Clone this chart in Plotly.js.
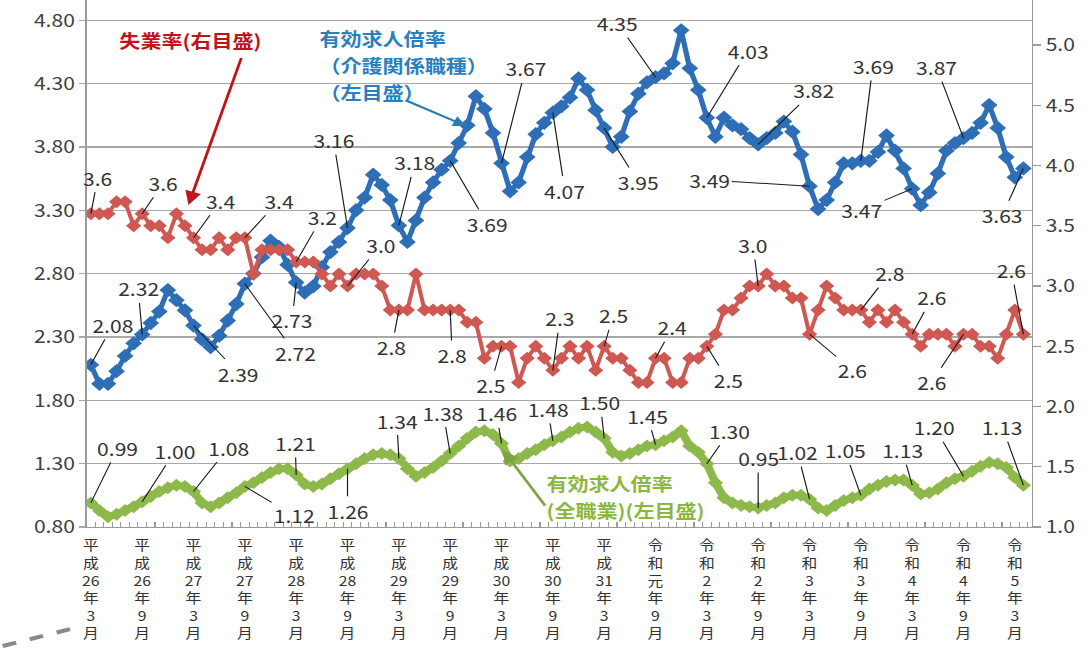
<!DOCTYPE html>
<html><head><meta charset="utf-8">
<script src="https://cdn.plot.ly/plotly-3.0.1.min.js"></script>
<style>
html,body{margin:0;padding:0;background:#fff;overflow:hidden;}
#wrap{width:1091px;height:650px;overflow:hidden;position:relative;background:#fff;}
#chart{position:absolute;left:0;top:0;transform-origin:0 0;}
</style></head><body>
<div id="wrap"><div id="chart"></div></div>
<script>
// ---- data (monthly, 平成26年3月 〜 令和5年4月) ----
const tickLabels = ['平成26年3月','平成26年9月','平成27年3月','平成27年9月','平成28年3月','平成28年9月',
  '平成29年3月','平成29年9月','平成30年3月','平成30年9月','平成31年3月','令和元年9月','令和2年3月',
  '令和2年9月','令和3年3月','令和3年9月','令和4年3月','令和4年9月','令和5年3月'];

// 有効求人倍率（介護関係職種）左目盛
const careRatio = [2.08,1.93,1.93,2.03,2.15,2.25,2.32,2.41,2.50,2.67,2.59,2.51,
  2.39,2.28,2.22,2.31,2.43,2.56,2.72,2.80,2.93,3.06,3.01,2.87,
  2.73,2.65,2.70,2.85,2.97,3.05,3.16,3.30,3.40,3.58,3.50,3.38,
  3.18,3.05,3.22,3.40,3.52,3.62,3.69,3.83,3.97,4.20,4.10,3.91,
  3.67,3.45,3.52,3.72,3.90,3.99,4.07,4.12,4.19,4.34,4.25,4.09,
  3.95,3.80,3.88,4.08,4.22,4.31,4.35,4.38,4.46,4.72,4.42,4.25,
  4.03,3.88,4.03,3.97,3.94,3.87,3.82,3.87,3.91,4.00,3.92,3.74,
  3.49,3.31,3.38,3.52,3.67,3.67,3.69,3.69,3.76,3.89,3.77,3.63,
  3.47,3.34,3.44,3.59,3.77,3.83,3.87,3.91,3.99,4.13,3.95,3.72,
  3.56,3.63];

// 失業率 右目盛
const unemployment = [3.6,3.6,3.6,3.7,3.7,3.5,3.6,3.5,3.5,3.4,3.6,3.5,
  3.4,3.3,3.3,3.4,3.3,3.4,3.4,3.1,3.3,3.3,3.3,3.3,
  3.2,3.2,3.2,3.1,3.0,3.1,3.0,3.1,3.1,3.1,3.0,2.8,
  2.8,2.8,3.1,2.8,2.8,2.8,2.8,2.8,2.7,2.7,2.4,2.5,
  2.5,2.5,2.2,2.4,2.5,2.4,2.3,2.4,2.5,2.4,2.5,2.3,
  2.5,2.4,2.4,2.3,2.2,2.2,2.4,2.4,2.2,2.2,2.4,2.4,
  2.5,2.6,2.8,2.8,2.9,3.0,3.0,3.1,3.0,3.0,2.9,2.9,
  2.6,2.8,3.0,2.9,2.8,2.8,2.8,2.7,2.8,2.7,2.8,2.7,
  2.6,2.5,2.6,2.6,2.6,2.5,2.6,2.6,2.5,2.5,2.4,2.6,
  2.8,2.6];

// 有効求人倍率（全職業）左目盛
const allJobsRatio = [0.99,0.93,0.88,0.90,0.93,0.96,1.00,1.04,1.08,1.11,1.13,1.12,
  1.08,0.99,0.96,0.99,1.03,1.07,1.12,1.15,1.19,1.23,1.26,1.26,
  1.21,1.14,1.12,1.14,1.18,1.22,1.26,1.30,1.34,1.37,1.38,1.37,
  1.34,1.26,1.20,1.23,1.27,1.32,1.38,1.44,1.50,1.55,1.56,1.53,
  1.46,1.32,1.34,1.38,1.41,1.45,1.48,1.51,1.55,1.58,1.59,1.55,
  1.50,1.39,1.36,1.38,1.41,1.44,1.45,1.48,1.51,1.56,1.44,1.39,
  1.30,1.15,1.03,0.99,0.97,0.96,0.95,0.97,0.99,1.03,1.05,1.05,
  1.02,0.95,0.93,0.97,1.01,1.03,1.05,1.10,1.13,1.16,1.17,1.17,
  1.13,1.06,1.07,1.10,1.15,1.18,1.20,1.24,1.28,1.31,1.30,1.27,
  1.19,1.13];

const labelIdx = [0,6,12,18,24,30,36,42,48,54,60,66,72,78,84,90,96,102,109];

// ---- label offsets (px: text centre relative to point) ----
const careOff = [[22,-40],[-4,-46],[45,48],[50,69],[-4,38],[-14,-88],[16,-63],[37,63],[24,-95],[12,78],
  [34,54],[-38,-54],[41,-67],[56,-54],[-100,-6],[12,-95],[-50,21],[-27,-71],[-21,47]];
const unempOff = [[7,-36],[21,-31],[27,-37],[34,-37],[26,-45],[33,-41],[-7,37],[2,45],[-11,39],[7,-52],
  [9,-31],[17,-31],[21,34],[-5,-41],[43,36],[29,-37],[20,-37],[-32,48],[-12,-64]];
const allOff = [[27,-55],[33,-51],[35,-44],[49,29],[-1,-32],[0,42],[-2,-38],[-7,-41],[-5,-30],[-5,-32],
  [-4,-36],[-8,-29],[23,-33],[0,-50],[-12,-47],[-16,-45],[-10,-35],[-29,-49],[-21,-58]];

// ---- geometry ----
const S = 1.17;                 // horizontal stretch of the reference picture
const W0 = 1091 / S, H = 650;
const L = 86 / S, R = W0 - 1033 / S, T = 0, B = 123;
const plotW = W0 - L - R, plotH = H - T - B;
const px = v => (v / S - L) / plotW;
const py = v => (H - B - v) / plotH;

const FONT = '"Noto Sans CJK JP", "Noto Sans", sans-serif';
const BLUE = '#2E6EB6', RED = '#CF5852', GREEN = '#8DB94B';
const xs = careRatio.map((_, i) => i);
const vert = s => s.match(/\d+|./g).join('<br>');

const traces = [
  {x: xs, y: allJobsRatio, type: 'scatter', mode: 'lines+markers', yaxis: 'y',
   line: {color: GREEN, width: 7}, marker: {symbol: 'diamond', size: 10, color: GREEN}, hoverinfo: 'skip'},
  {x: xs, y: careRatio, type: 'scatter', mode: 'lines+markers', yaxis: 'y',
   line: {color: BLUE, width: 4.5}, marker: {symbol: 'diamond', size: 11, color: BLUE}, hoverinfo: 'skip'},
  {x: xs, y: unemployment, type: 'scatter', mode: 'lines+markers', yaxis: 'y2',
   line: {color: RED, width: 3.5}, marker: {symbol: 'diamond', size: 10, color: RED}, hoverinfo: 'skip'}
];

const ann = [];
function addLabels(arr, offs, yref, digits) {
  labelIdx.forEach((i, k) => ann.push({
    x: i, y: arr[i], xref: 'x', yref: yref, text: arr[i].toFixed(digits),
    showarrow: true, arrowhead: 0, arrowwidth: 1, arrowcolor: '#1a1a1a',
    ax: offs[k][0] / S, ay: offs[k][1], standoff: 0, startstandoff: 0,
    font: {family: FONT, size: 18, color: '#333'}
  }));
}
addLabels(careRatio, careOff, 'y', 2);
addLabels(unemployment, unempOff, 'y2', 1);
addLabels(allJobsRatio, allOff, 'y', 2);

function title(lines, xLeft, yFirst, gap, color, anchor) {
  lines.forEach((t, k) => ann.push({xref: 'paper', yref: 'paper', x: px(xLeft), y: py(yFirst + k * gap),
    xanchor: anchor, yanchor: 'middle', text: '<b>' + t + '</b>', showarrow: false, borderpad: 0,
    font: {family: FONT, size: 18, color: color}}));
}
// series titles
title(['失業率(右目盛)'], 190, 40, 0, '#C0141B', 'center');
ann.push({xref: 'paper', yref: 'paper', x: px(188), y: py(205), text: ' ', showarrow: true,
  arrowhead: 2, arrowsize: 1.1, arrowwidth: 2.5, arrowcolor: '#C0141B', ax: (242 - 188) / S, ay: 55 - 205,
  font: {size: 2}});
title(['有効求人倍率', '（介護関係職種）', '（左目盛）'], 318, 38, 27, '#2A7FC1', 'left');
ann.push({xref: 'paper', yref: 'paper', x: px(466), y: py(126), text: ' ', showarrow: true,
  arrowhead: 2, arrowsize: 1.1, arrowwidth: 2, arrowcolor: '#2B7BB3', ax: (405 - 466) / S, ay: 100 - 126,
  font: {size: 2}});
title(['有効求人倍率', '(全職業)(左目盛)'], 546, 483, 27, '#8CB73F', 'left');
ann.push({xref: 'paper', yref: 'paper', x: px(503), y: py(450), text: ' ', showarrow: true,
  arrowhead: 2, arrowsize: 1.1, arrowwidth: 2.5, arrowcolor: '#7DA443', ax: (547 - 503) / S, ay: 508 - 450,
  font: {size: 2}});

const layout = {
  width: W0, height: H,
  margin: {l: L, r: R, t: T, b: B, pad: 0},
  paper_bgcolor: '#fff', plot_bgcolor: '#fff',
  showlegend: false,
  font: {family: FONT, color: '#333'},
  xaxis: {
    range: [-0.5, 110.0], tickmode: 'array',
    tickvals: tickLabels.map((_, k) => k * 6), ticktext: tickLabels.map(vert),
    ticks: '', tickangle: 0, showgrid: false, zeroline: false,
    showline: true, linecolor: '#9a9a9a', linewidth: 1.3,
    tickfont: {family: FONT, size: 13.5, color: '#333'},
    ticklabelstandoff: 6,
    minor: {tickmode: 'linear', tick0: -0.5, dtick: 1, ticks: 'inside', ticklen: 5,
            tickcolor: '#9a9a9a', tickwidth: 1, showgrid: false}
  },
  yaxis: {
    range: [0.8, 0.8 + 527 / 126.7], tickmode: 'linear', tick0: 0.8, dtick: 0.5, tickformat: '.2f',
    showgrid: true, gridcolor: '#a8a8a8', gridwidth: 1.3, zeroline: false,
    showline: true, linecolor: '#9a9a9a', linewidth: 1.3,
    ticks: 'outside', ticklen: 6 / S, tickcolor: '#a8a8a8', tickwidth: 1.3,
    tickfont: {family: FONT, size: 18, color: '#404040'}, ticklabelstandoff: 19 / S
  },
  yaxis2: {
    overlaying: 'y', side: 'right',
    range: [1.0, 1.0 + 527 / 120.5], tickmode: 'linear', tick0: 1.0, dtick: 0.5, tickformat: '.1f',
    showgrid: false, zeroline: false,
    showline: true, linecolor: '#9a9a9a', linewidth: 1.3,
    ticks: 'outside', ticklen: 8 / S, tickcolor: '#9a9a9a', tickwidth: 1.3,
    tickfont: {family: FONT, size: 18, color: '#404040'}, ticklabelstandoff: 19 / S
  },
  annotations: ann,
  shapes: [{type: 'line', xref: 'paper', yref: 'paper', x0: px(2), y0: py(646), x1: px(78), y1: py(627),
            line: {color: '#8a8a8a', width: 4, dash: 'dash'}}]
};

const el = document.getElementById('chart');
el.style.transform = 'scaleX(' + S + ')';
Plotly.newPlot(el, traces, layout, {displayModeBar: false, staticPlot: true});
</script>
</body></html>
